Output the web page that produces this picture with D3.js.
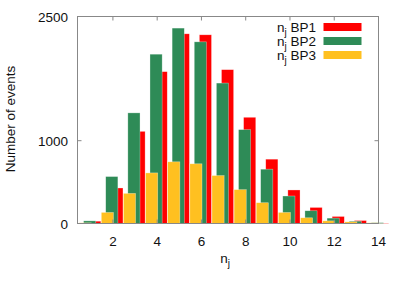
<!DOCTYPE html>
<html>
<head>
<meta charset="utf-8">
<script src="https://cdn.jsdelivr.net/npm/d3@7"></script>
<style>
  body { margin: 0; background: #fff; }
  svg text, svg tspan { font-family: "Liberation Sans", Arial, sans-serif; fill: #111; }
</style>
</head>
<body>
<svg id="chart" width="403" height="283"></svg>
<script>
// n_j multiplicity values
var nj = [1, 2, 3, 4, 5, 6, 7, 8, 9, 10, 11, 12, 13, 14];
// number of events per benchmark point
var bp1 = [28, 429, 1113, 1834, 2291, 2279, 1858, 1283, 777, 405, 194, 85, 36, 4];
var bp2 = [32, 567, 1336, 2045, 2360, 2194, 1696, 1134, 656, 332, 154, 65, 28, 10];
var bp3 = [8, 134, 364, 611, 745, 721, 579, 409, 251, 134, 69, 32, 20, 8];
var xTicks = [2, 4, 6, 8, 10, 12, 14];
var yTicks = [0, 1000, 2500];

// series, drawn back to front
var series = [
    { name: 'BP1', values: bp1, color: '#ff0000', offset: 0.18 },
    { name: 'BP2', values: bp2, color: '#2e8b57', offset: -0.05 },
    { name: 'BP3', values: bp3, color: '#ffc020', offset: -0.25 }
];

var svg = d3.select('#chart');
var m = { left: 77.5, right: 378.5, top: 16.5, bottom: 223.5 };
var boxWidth = 0.55;
var fs = 13.5, fsSub = 10;

var x = d3.scaleLinear().domain([0.4, 14]).range([m.left, m.right]);
var y = d3.scaleLinear().domain([0, 2500]).range([m.bottom, m.top]);

// bars
series.forEach(function(s) {
    svg.append('g')
        .selectAll('rect')
        .data(s.values)
        .enter().append('rect')
        .attr('x', function(d, i) { return x(nj[i] + s.offset - boxWidth / 2); })
        .attr('width', x(boxWidth) - x(0))
        .attr('y', function(d) { return y(d); })
        .attr('height', function(d) { return y(0) - y(d); })
        .attr('fill', s.color)
        .attr('stroke', 'rgba(255,255,255,0.5)')
        .attr('stroke-width', 0.6);
});

// baseline
svg.append('line')
    .attr('x1', m.left).attr('x2', m.right)
    .attr('y1', y(0)).attr('y2', y(0))
    .attr('stroke', '#a08c30').attr('stroke-width', 1.2);

// frame
svg.append('rect')
    .attr('x', m.left).attr('y', m.top)
    .attr('width', m.right - m.left).attr('height', m.bottom - m.top)
    .attr('fill', 'none').attr('stroke', '#888').attr('stroke-width', 1);

// ticks (inward, on all sides)
var tl = 4;
xTicks.forEach(function(t) {
    svg.append('line').attr('x1', x(t)).attr('x2', x(t))
        .attr('y1', m.top).attr('y2', m.top + tl)
        .attr('stroke', '#888');
    svg.append('line').attr('x1', x(t)).attr('x2', x(t))
        .attr('y1', m.bottom).attr('y2', m.bottom - tl)
        .attr('stroke', '#888');
    svg.append('text').attr('x', x(t)).attr('y', 245.5)
        .attr('text-anchor', 'middle').attr('font-size', fs)
        .text(t);
});
yTicks.forEach(function(t) {
    svg.append('line').attr('x1', m.left).attr('x2', m.left + tl)
        .attr('y1', y(t)).attr('y2', y(t)).attr('stroke', '#888');
    svg.append('line').attr('x1', m.right).attr('x2', m.right - tl)
        .attr('y1', y(t)).attr('y2', y(t)).attr('stroke', '#888');
    svg.append('text').attr('x', 68).attr('y', y(t) + 5)
        .attr('text-anchor', 'end').attr('font-size', fs)
        .text(t);
});

// axis titles
var xl = svg.append('text').attr('x', 225).attr('y', 263)
    .attr('text-anchor', 'middle').attr('font-size', fs);
xl.append('tspan').text('n');
xl.append('tspan').attr('dy', 4).attr('font-size', fsSub).text('j');

svg.append('text')
    .attr('transform', 'translate(15,119) rotate(-90)')
    .attr('text-anchor', 'middle').attr('font-size', fs)
    .text('Number of events');

// legend
series.forEach(function(s, i) {
    var cy = 27 + i * 14;
    var t = svg.append('text').attr('x', 316).attr('y', cy + 5)
        .attr('text-anchor', 'end').attr('font-size', fs);
    t.append('tspan').text('n');
    t.append('tspan').attr('dy', 4).attr('font-size', fsSub).text('j');
    t.append('tspan').attr('dy', -4).text(' ' + s.name);
    svg.append('rect')
        .attr('x', 323.5).attr('y', cy - 4)
        .attr('width', 38).attr('height', 8)
        .attr('fill', s.color);
});
</script>
</body>
</html>
